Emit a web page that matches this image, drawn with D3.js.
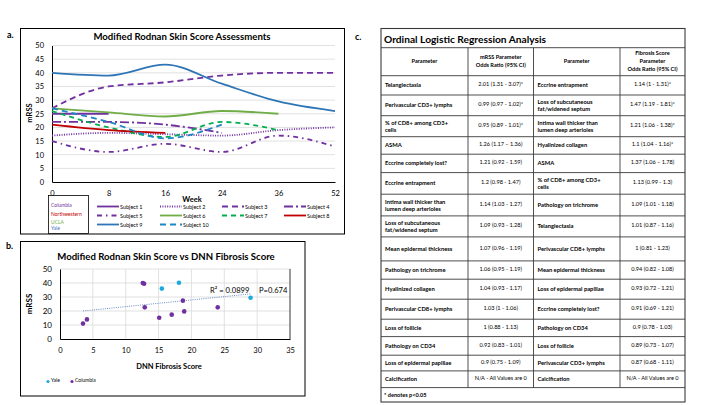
<!DOCTYPE html>
<html>
<head>
<meta charset="utf-8">
<script src="https://cdn.jsdelivr.net/npm/d3@7"></script>
<style>
    body { margin: 0; background: #fff; }
    svg { display: block; font-family: Lato, "Open Sans", sans-serif; }
</style>
</head>
<body>
<div id="figure"></div>
<script>
// ---- panel a data: mRSS by week ----
var weeks = ["0", "8", "16", "24", "36", "52"];
var subjectNames = ["Subject 1", "Subject 2", "Subject 3", "Subject 4", "Subject 5",
    "Subject 6", "Subject 7", "Subject 8", "Subject 9", "Subject 10"];
var subject1 = [25, 25, null, null, null, null];
var subject2 = [17, 18, 17.5, 17, 19, 20];
var subject3 = [27, 35, 36.5, 39, 40, 40];
var subject4 = [22, 22, 21, 18, null, null];
var subject5 = [15, 11, 14, 11, 17, 13];
var subject6 = [27, 25.5, 24, 26, 25, null];
var subject7 = [26, 20, 16.5, 22, 19, null];
var subject8 = [21, 19, 18, null, null, null];
var subject9 = [40, 39, 43, 36, 29.5, 26];
var subject10 = [27, 22, 16, 21, null, null];
var mrssTicksA = [0, 5, 10, 15, 20, 25, 30, 35, 40, 45, 50];
var sites = ["Columbia", "Northwestern", "UCLA", "Yale"];

// ---- panel b data: mRSS vs DNN fibrosis score ----
var yaleFibrosis = [15.5, 18.1, 29.0];
var yaleMrss = [36, 40.2, 29.5];
var columbiaFibrosis = [3.5, 4.1, 12.6, 12.8, 12.9, 15.1, 17.0, 18.7, 18.9, 24.0];
var columbiaMrss = [11, 14, 40, 39.5, 22.6, 15.2, 17.4, 27.4, 19.7, 22.6];
var fibrosisTicks = [0, 5, 10, 15, 20, 25, 30, 35];
var mrssTicksB = [0, 10, 20, 30, 40, 50];
var rSquaredText = "R\u00B2 = 0.0899";
var pValueText = "P=0.674";

// ---- panel c data: ordinal logistic regression ----
var mrssParams = ["Telangiectasia", "Perivascular CD3+ lymphs", "% of CD8+ among CD3+ cells", "ASMA",
    "Eccrine completely lost?", "Eccrine entrapment", "Intima wall thicker than lumen deep arterioles",
    "Loss of subcutaneous fat/widened septum", "Mean epidermal thickness", "Pathology on trichrome",
    "Hyalinized collagen", "Perivascular CD8+ lymphs", "Loss of follicle", "Pathology on CD34",
    "Loss of epidermal papillae", "Calcification"];
var mrssOdds = ["2.01 (1.31 - 3.07)*", "0.99 (0.97 - 1.02)*", "0.95 (0.89 - 1.01)*", "1.26 (1.17 \u2013 1.36)",
    "1.21 (0.92 - 1.59)", "1.2 (0.98 - 1.47)", "1.14 (1.03 - 1.27)", "1.09 (0.93 - 1.28)",
    "1.07 (0.96 - 1.19)", "1.06 (0.95 - 1.19)", "1.04 (0.93 - 1.17)", "1.03 (1 - 1.06)",
    "1 (0.88 - 1.13)", "0.92 (0.83 - 1.01)", "0.9 (0.75 - 1.09)", "N/A - All Values are 0"];
var fibrosisParams = ["Eccrine entrapment", "Loss of subcutaneous fat/widened septum",
    "Intima wall thicker than lumen deep arterioles", "Hyalinized collagen", "ASMA",
    "% of CD8+ among CD3+ cells", "Pathology on trichrome", "Telangiectasia", "Perivascular CD8+ lymphs",
    "Mean epidermal thickness", "Loss of epidermal papillae", "Eccrine completely lost?",
    "Pathology on CD34", "Loss of follicle", "Perivascular CD3+ lymphs", "Calcification"];
var fibrosisOdds = ["1.14 (1 - 1.31)*", "1.47 (1.19 - 1.81)*", "1.21 (1.06 - 1.38)*", "1.1 (1.04 - 1.16)*",
    "1.37 (1.06 \u2013 1.78)", "1.13 (0.99 - 1.3)", "1.09 (1.01 - 1.18)", "1.01 (0.87 - 1.16)",
    "1 (0.81 - 1.23)", "0.94 (0.82 - 1.08)", "0.93 (0.72 - 1.21)", "0.91 (0.69 - 1.21)",
    "0.9 (0.78 - 1.03)", "0.89 (0.73 - 1.07)", "0.87 (0.68 - 1.11)", "N/A - All Values are 0"];
var tableHeaders = [["Parameter"], ["mRSS Parameter", "Odds Ratio (95% CI)"], ["Parameter"],
    ["Fibrosis Score", "Parameter", "Odds Ratio (95% CI)"]];

var drawFigure = (function () {

    var purple = "#7030A0";
    var seriesStyle = [
        { color: purple, dash: null },
        { color: purple, dash: "1,1.4" },
        { color: purple, dash: "6,4" },
        { color: purple, dash: "9,3,2,3" },
        { color: purple, dash: "5,4,1.5,4" },
        { color: "#70AD47", dash: null },
        { color: "#00B050", dash: "5,4" },
        { color: "#C00000", dash: null },
        { color: "#2E75B6", dash: null },
        { color: "#1F86C4", dash: "6,4" }
    ];
    var siteColors = [purple, "#C00000", "#70AD47", "#4472C4"];
    var gridColor = "#d9d9d9";

    // manual line breaks that the table cells use
    var cellLines = {
        "% of CD8+ among CD3+ cells": ["% of CD8+ among CD3+", "cells"],
        "Intima wall thicker than lumen deep arterioles": ["Intima wall thicker than", "lumen deep arterioles"],
        "Loss of subcutaneous fat/widened septum": ["Loss of subcutaneous", "fat/widened septum"]
    };

    function panelA(svg) {
        var g = svg.append("g");
        g.append("rect").attr("x", 20.5).attr("y", 28.5).attr("width", 324).attr("height", 205.5)
            .attr("fill", "none").attr("stroke", "#000");

        var x = d3.scalePoint().domain(weeks).range([52, 335]);
        var y = d3.scaleLinear().domain([0, 50]).range([182, 45.5]);

        g.selectAll(".gridA").data(mrssTicksA.slice(1)).enter().append("line")
            .attr("x1", 52).attr("x2", 335)
            .attr("y1", function (d) { return y(d); }).attr("y2", function (d) { return y(d); })
            .attr("stroke", gridColor).attr("stroke-width", 0.8);

        var yAxis = g.append("g").attr("transform", "translate(52,0)")
            .call(d3.axisLeft(y).tickValues(mrssTicksA).tickSize(0).tickPadding(8));
        yAxis.select(".domain").attr("stroke", "#000");
        yAxis.selectAll("text").attr("font-size", 7.5).attr("font-family", "Lato").attr("fill", "#000");

        var xAxis = g.append("g").attr("transform", "translate(0,182)")
            .call(d3.axisBottom(x).tickSize(0).tickPadding(9));
        xAxis.select(".domain").attr("stroke", "#000");
        xAxis.selectAll("text").attr("font-size", 7.5).attr("font-family", "Lato").attr("fill", "#000");

        g.append("text").attr("x", 182).attr("y", 40).attr("text-anchor", "middle")
            .attr("font-size", 9.6).attr("font-weight", "bold").text("Modified Rodnan Skin Score Assessments");
        g.append("text").attr("x", 192).attr("y", 201.5).attr("text-anchor", "middle")
            .attr("font-size", 7.5).attr("font-weight", "bold").text("Week");
        g.append("text").attr("transform", "translate(32,113) rotate(-90)").attr("text-anchor", "middle")
            .attr("font-size", 7.5).attr("font-weight", "bold").text("mRSS");

        var allSeries = [subject1, subject2, subject3, subject4, subject5,
            subject6, subject7, subject8, subject9, subject10];
        var line = d3.line()
            .defined(function (d) { return d != null; })
            .x(function (d, i) { return x(weeks[i]); })
            .y(function (d) { return y(d); })
            .curve(d3.curveMonotoneX);

        g.selectAll(".subject").data(allSeries).enter().append("path")
            .attr("class", "subject")
            .attr("d", line)
            .attr("fill", "none")
            .attr("stroke", function (d, i) { return seriesStyle[i].color; })
            .attr("stroke-width", 1.8)
            .attr("stroke-dasharray", function (d, i) { return seriesStyle[i].dash; });

        // site colour key
        g.append("rect").attr("x", 48.5).attr("y", 195.5).attr("width", 40).attr("height", 38)
            .attr("fill", "#fff").attr("stroke", "#000").attr("stroke-width", 0.8);
        var siteY = [207, 215.5, 223.5, 229.5];
        g.selectAll(".site").data(sites).enter().append("text")
            .attr("x", 51).attr("y", function (d, i) { return siteY[i]; })
            .attr("font-size", 5).attr("fill", function (d, i) { return siteColors[i]; })
            .text(function (d) { return d; });

        // series legend
        var colX = [97, 160, 222, 284];
        var rowY = [206.5, 215.5, 224.5];
        var item = g.selectAll(".legA").data(subjectNames).enter().append("g")
            .attr("transform", function (d, i) { return "translate(" + colX[i % 4] + "," + rowY[Math.floor(i / 4)] + ")"; });
        item.append("line").attr("x1", 0).attr("x2", 22).attr("y1", 0).attr("y2", 0)
            .attr("stroke", function (d, i) { return seriesStyle[i].color; })
            .attr("stroke-width", 1.8)
            .attr("stroke-dasharray", function (d, i) { return seriesStyle[i].dash; });
        item.append("text").attr("x", 23).attr("y", 2).attr("font-size", 5.5)
            .text(function (d) { return d; });
    }

    function panelB(svg) {
        var g = svg.append("g");
        g.append("rect").attr("x", 20.5).attr("y", 241.5).attr("width", 284.5).attr("height", 154.5)
            .attr("fill", "none").attr("stroke", "#000");

        var x = d3.scaleLinear().domain([0, 35]).range([60, 290]);
        var y = d3.scaleLinear().domain([0, 50]).range([339, 269]);

        g.selectAll(".vgrid").data(fibrosisTicks.slice(1, -1)).enter().append("line")
            .attr("x1", function (d) { return x(d); }).attr("x2", function (d) { return x(d); })
            .attr("y1", y(0)).attr("y2", y(50))
            .attr("stroke", gridColor).attr("stroke-width", 0.8);
        g.selectAll(".hgrid").data(mrssTicksB.slice(1)).enter().append("line")
            .attr("x1", x(0)).attr("x2", x(35))
            .attr("y1", function (d) { return y(d); }).attr("y2", function (d) { return y(d); })
            .attr("stroke", gridColor).attr("stroke-width", 0.8);
        g.append("line").attr("x1", x(35)).attr("x2", x(35)).attr("y1", y(0)).attr("y2", y(50))
            .attr("stroke", "#000").attr("stroke-width", 0.8);

        var yAxis = g.append("g").attr("transform", "translate(" + x(0) + ",0)")
            .call(d3.axisLeft(y).tickValues(mrssTicksB).tickSize(0).tickPadding(8));
        yAxis.select(".domain").attr("stroke", "#000");
        yAxis.selectAll("text").attr("font-size", 8).attr("font-family", "Lato").attr("fill", "#000");

        var xAxis = g.append("g").attr("transform", "translate(0," + y(0) + ")")
            .call(d3.axisBottom(x).tickValues(fibrosisTicks).tickSize(0).tickPadding(9));
        xAxis.select(".domain").attr("stroke", "#000");
        xAxis.selectAll("text").attr("font-size", 7.5).attr("font-family", "Lato").attr("fill", "#000");

        g.append("text").attr("x", 166).attr("y", 259.5).attr("text-anchor", "middle")
            .attr("font-size", 9.6).attr("font-weight", "bold").text("Modified Rodnan Skin Score vs DNN Fibrosis Score");
        g.append("text").attr("x", 169).attr("y", 368.5).attr("text-anchor", "middle")
            .attr("font-size", 7.5).attr("font-weight", "bold").text("DNN Fibrosis Score");
        g.append("text").attr("transform", "translate(32,304) rotate(-90)").attr("text-anchor", "middle")
            .attr("font-size", 8).attr("font-weight", "bold").text("mRSS");

        // linear trend over all points
        var xs = columbiaFibrosis.concat(yaleFibrosis);
        var ys = columbiaMrss.concat(yaleMrss);
        var mx = d3.mean(xs), my = d3.mean(ys);
        var sxy = d3.sum(xs, function (v, i) { return (v - mx) * (ys[i] - my); });
        var sxx = d3.sum(xs, function (v) { return (v - mx) * (v - mx); });
        var slope = sxy / sxx, icpt = my - slope * mx;
        var ext = d3.extent(xs);
        g.append("line")
            .attr("x1", x(ext[0])).attr("y1", y(icpt + slope * ext[0]))
            .attr("x2", x(ext[1])).attr("y2", y(icpt + slope * ext[1]))
            .attr("stroke", "#5B7FC0").attr("stroke-width", 0.9).attr("stroke-dasharray", "1,1.2");

        g.selectAll(".col").data(columbiaFibrosis).enter().append("circle")
            .attr("cx", function (d) { return x(d); })
            .attr("cy", function (d, i) { return y(columbiaMrss[i]); })
            .attr("r", 2.3).attr("fill", purple);
        g.selectAll(".yale").data(yaleFibrosis).enter().append("circle")
            .attr("cx", function (d) { return x(d); })
            .attr("cy", function (d, i) { return y(yaleMrss[i]); })
            .attr("r", 2.3).attr("fill", "#1CA9E0");

        g.append("text").attr("x", 210).attr("y", 293).attr("font-size", 7.6).text(rSquaredText);
        g.append("text").attr("x", 259).attr("y", 293).attr("font-size", 7.6).text(pValueText);

        // legend
        var legItems = [{ name: "Yale", color: "#1CA9E0", x: 48 }, { name: "Columbia", color: purple, x: 72 }];
        legItems.forEach(function (it) {
            g.append("circle").attr("cx", it.x).attr("cy", 381.5).attr("r", 1.6).attr("fill", it.color);
            g.append("text").attr("x", it.x + 3).attr("y", 381.5).attr("font-size", 5).text(it.name);
        });
    }

    function panelC(svg) {
        var g = svg.append("g").attr("font-family", "Lato");
        var colX = [381, 468, 533.5, 620, 685];
        var top = 28.5, titleBottom = 47.7, headerBottom = 75.7;
        var rowHeights = [19.3, 20.7, 21, 17.5, 18.4, 21.6, 21.7, 21, 24, 18.3, 20, 20, 17.4, 18.6, 15.7, 16.7];
        var footBottom = 402;

        var rowTops = [headerBottom];
        rowHeights.forEach(function (h, i) { rowTops.push(rowTops[i] + h); });
        var tableBottom = rowTops[rowTops.length - 1];

        var stroke = "#3a3a3a";
        g.append("rect").attr("x", colX[0]).attr("y", top).attr("width", colX[4] - colX[0])
            .attr("height", footBottom - top).attr("fill", "none").attr("stroke", stroke).attr("stroke-width", 1.1);
        [titleBottom].concat(rowTops).forEach(function (yy) {
            g.append("line").attr("x1", colX[0]).attr("x2", colX[4]).attr("y1", yy).attr("y2", yy)
                .attr("stroke", stroke).attr("stroke-width", 0.9);
        });
        colX.slice(1, 4).forEach(function (xx) {
            g.append("line").attr("x1", xx).attr("x2", xx).attr("y1", titleBottom).attr("y2", tableBottom)
                .attr("stroke", stroke).attr("stroke-width", 0.9);
        });

        g.append("text").attr("x", 384).attr("y", 42.5).attr("font-size", 10.2).attr("font-weight", "bold")
            .text("Ordinal Logistic Regression Analysis");
        g.append("text").attr("x", 384).attr("y", 396.5).attr("font-size", 5.6).attr("font-weight", "bold")
            .text("* denotes p<0.05");

        // headers
        tableHeaders.forEach(function (lines, c) {
            var cx = (colX[c] + colX[c + 1]) / 2;
            var cy = (titleBottom + headerBottom) / 2;
            var lh = 8;
            lines.forEach(function (t, k) {
                g.append("text").attr("x", cx).attr("y", cy + (k - (lines.length - 1) / 2) * lh + 1.5)
                    .attr("text-anchor", "middle").attr("font-size", 5.6).attr("font-weight", "bold").text(t);
            });
        });

        function paramCell(text, c, r) {
            var lines = cellLines[text] || [text];
            var cy = rowTops[r] + rowHeights[r] / 2;
            lines.forEach(function (t, k) {
                g.append("text").attr("x", colX[c] + 4)
                    .attr("y", cy + (k - (lines.length - 1) / 2) * 7 + 2)
                    .attr("font-size", 5.8).attr("font-weight", "bold").text(t);
            });
        }
        function valueCell(text, c, r) {
            var cy = rowTops[r] + rowHeights[r] / 2;
            g.append("text").attr("x", (colX[c] + colX[c + 1]) / 2).attr("y", cy + 1)
                .attr("text-anchor", "middle").attr("font-size", 5.6).text(text);
        }

        mrssParams.forEach(function (p, r) {
            paramCell(p, 0, r);
            valueCell(mrssOdds[r], 1, r);
            paramCell(fibrosisParams[r], 2, r);
            valueCell(fibrosisOdds[r], 3, r);
        });
    }

    function go() {
        var svg = d3.select("#figure").append("svg").attr("width", 720).attr("height", 405);
        svg.append("rect").attr("width", 720).attr("height", 405).attr("fill", "#fff");

        svg.append("text").attr("x", 7).attr("y", 37.5).attr("font-size", 9).attr("font-weight", "bold").text("a.");
        svg.append("text").attr("x", 6).attr("y", 249).attr("font-size", 9).attr("font-weight", "bold").text("b.");
        svg.append("text").attr("x", 355).attr("y", 40).attr("font-size", 9).attr("font-weight", "bold").text("c.");

        panelA(svg);
        panelB(svg);
        panelC(svg);
    }

    return go;
}());

drawFigure();
</script>
</body>
</html>
